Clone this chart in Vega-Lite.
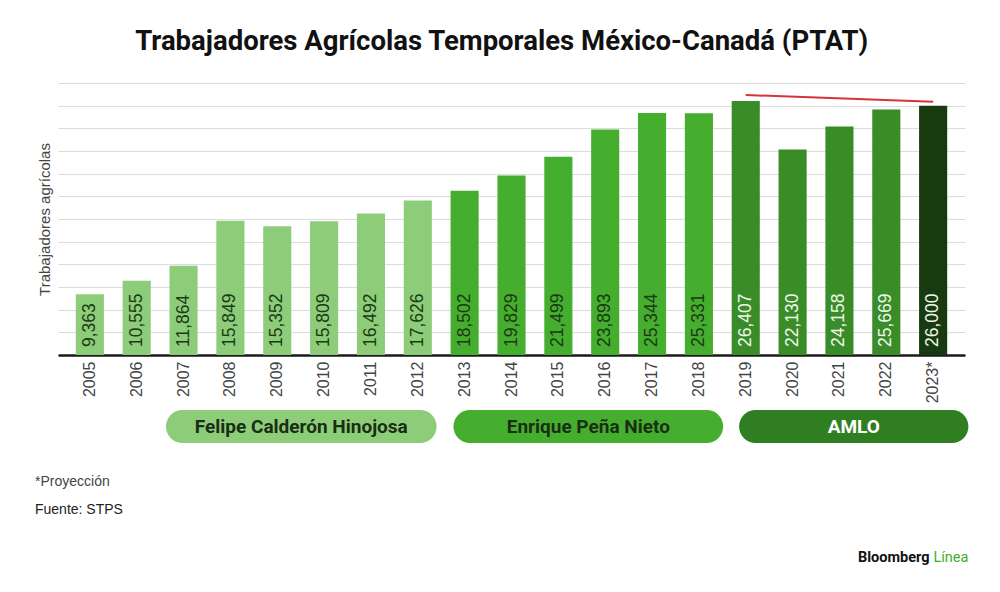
{
  "$schema": "https://vega.github.io/schema/vega-lite/v6.json",
  "background": "white",
  "padding": {"left": 35, "top": 27, "right": 33, "bottom": 10},
  "title": {
    "text": "Trabajadores Agrícolas Temporales México-Canadá (PTAT)",
    "font": "Roboto",
    "fontSize": 27.5,
    "fontWeight": "bold",
    "color": "#111111",
    "anchor": "middle",
    "offset": 28
  },
  "config": {"view": {"stroke": null}, "font": "Liberation Sans"},
  "spacing": 7,
  "resolve": {"scale": {"color": "independent"}},
  "vconcat": [
    {
      "width": 907,
      "height": 272,
      "data": {
        "values": [
          {"anio": "2005", "valor": 9363, "grupo": "Calderón"},
          {"anio": "2006", "valor": 10555, "grupo": "Calderón"},
          {"anio": "2007", "valor": 11864, "grupo": "Calderón"},
          {"anio": "2008", "valor": 15849, "grupo": "Calderón"},
          {"anio": "2009", "valor": 15352, "grupo": "Calderón"},
          {"anio": "2010", "valor": 15809, "grupo": "Calderón"},
          {"anio": "2011", "valor": 16492, "grupo": "Calderón"},
          {"anio": "2012", "valor": 17626, "grupo": "Calderón"},
          {"anio": "2013", "valor": 18502, "grupo": "Peña Nieto"},
          {"anio": "2014", "valor": 19829, "grupo": "Peña Nieto"},
          {"anio": "2015", "valor": 21499, "grupo": "Peña Nieto"},
          {"anio": "2016", "valor": 23893, "grupo": "Peña Nieto"},
          {"anio": "2017", "valor": 25344, "grupo": "Peña Nieto"},
          {"anio": "2018", "valor": 25331, "grupo": "Peña Nieto"},
          {"anio": "2019", "valor": 26407, "grupo": "AMLO"},
          {"anio": "2020", "valor": 22130, "grupo": "AMLO"},
          {"anio": "2021", "valor": 24158, "grupo": "AMLO"},
          {"anio": "2022", "valor": 25669, "grupo": "AMLO"},
          {"anio": "2023*", "valor": 26000, "grupo": "Proyección"}
        ]
      },
      "encoding": {
        "x": {
          "field": "anio",
          "type": "ordinal",
          "sort": null,
          "scale": {"paddingInner": 0.4, "paddingOuter": 0.38},
          "axis": {
            "title": null,
            "labelAngle": 270,
            "labelFontSize": 16,
            "labelColor": "#444444",
            "labelPadding": 6,
            "ticks": false,
            "domainColor": "#1a1a1a",
            "domainWidth": 2.5
          }
        }
      },
      "layer": [
        {
          "mark": {"type": "bar"},
          "encoding": {
            "y": {
              "field": "valor",
              "type": "quantitative",
              "scale": {"domain": [4000, 28000], "nice": false, "zero": false},
              "axis": {
                "title": "Trabajadores agrícolas",
                "titleFontSize": 15,
                "titleFontWeight": "normal",
                "titleColor": "#444444",
                "titlePadding": 6,
                "labels": false,
                "ticks": false,
                "domain": false,
                "gridColor": "#dcdcdc",
                "tickCount": 12
              }
            },
            "y2": {"datum": 4000},
            "color": {
              "field": "grupo",
              "type": "nominal",
              "scale": {
                "domain": ["Calderón", "Peña Nieto", "AMLO", "Proyección"],
                "range": ["#8dcd7a", "#46ae2f", "#3a8c28", "#183a10"]
              },
              "legend": null
            }
          }
        },
        {
          "mark": {"type": "text", "angle": 270, "align": "left", "baseline": "middle", "dx": 8, "fontSize": 17.5},
          "encoding": {
            "y": {"datum": 4000, "type": "quantitative"},
            "text": {"field": "valor", "type": "quantitative", "format": ","},
            "color": {
              "condition": {"test": "datum.grupo === 'AMLO' || datum.grupo === 'Proyección'", "value": "#eef7ea"},
              "value": "#1c3a14"
            }
          }
        },
        {
          "data": {
            "values": [
              {"anio": "2019", "valor": 26940},
              {"anio": "2023*", "valor": 26350}
            ]
          },
          "mark": {"type": "line", "color": "#d6343b", "strokeWidth": 2},
          "encoding": {
            "y": {"field": "valor", "type": "quantitative"}
          }
        }
      ]
    },
    {
      "width": 907,
      "height": 33,
      "data": {
        "values": [
          {"presidente": "Felipe Calderón Hinojosa", "inicio": 2006.62, "fin": 2012.39, "grupo": "Calderón"},
          {"presidente": "Enrique Peña Nieto", "inicio": 2012.75, "fin": 2018.5, "grupo": "Peña Nieto"},
          {"presidente": "AMLO", "inicio": 2018.84, "fin": 2023.73, "grupo": "AMLO"}
        ]
      },
      "title": {
        "text": "*Proyección",
        "subtitle": "Fuente: STPS",
        "orient": "bottom",
        "anchor": "start",
        "frame": "group",
        "dx": -23,
        "offset": 32,
        "fontSize": 14,
        "fontWeight": "normal",
        "color": "#444444",
        "subtitleFontSize": 14,
        "subtitleColor": "#222222",
        "subtitlePadding": 14
      },
      "encoding": {
        "x": {
          "field": "inicio",
          "type": "quantitative",
          "scale": {"domain": [2004.318, 2023.657], "nice": false, "zero": false},
          "axis": null
        }
      },
      "layer": [
        {
          "mark": {"type": "rect", "cornerRadius": 16.5},
          "encoding": {
            "x2": {"field": "fin"},
            "color": {
              "field": "grupo",
              "type": "nominal",
              "scale": {
                "domain": ["Calderón", "Peña Nieto", "AMLO"],
                "range": ["#8dcd7a", "#46ae2f", "#2f7f22"]
              },
              "legend": null
            }
          }
        },
        {
          "transform": [{"calculate": "(datum.inicio + datum.fin) / 2", "as": "centro"}],
          "mark": {"type": "text", "font": "Roboto", "fontWeight": "bold", "fontSize": 19},
          "encoding": {
            "x": {"field": "centro", "type": "quantitative"},
            "text": {"field": "presidente"},
            "color": {
              "condition": {"test": "datum.grupo === 'AMLO'", "value": "#ffffff"},
              "value": "#1a2e14"
            }
          }
        }
      ]
    },
    {
      "width": 907,
      "height": 68,
      "layer": [
        {
          "data": {"values": [{"texto": "Línea"}]},
          "mark": {"type": "text", "font": "Roboto", "fontSize": 14.5, "align": "right", "color": "#3fae2c"},
          "encoding": {
            "x": {"datum": 2023.73, "type": "quantitative", "scale": {"domain": [2004.318, 2023.657], "nice": false, "zero": false}, "axis": null},
            "text": {"field": "texto"}
          }
        },
        {
          "data": {"values": [{"texto": "Bloomberg"}]},
          "mark": {"type": "text", "font": "Roboto", "fontSize": 14.5, "fontWeight": "bold", "align": "right", "dx": -39, "color": "#111111"},
          "encoding": {
            "x": {"datum": 2023.73, "type": "quantitative"},
            "text": {"field": "texto"}
          }
        }
      ]
    }
  ]
}
